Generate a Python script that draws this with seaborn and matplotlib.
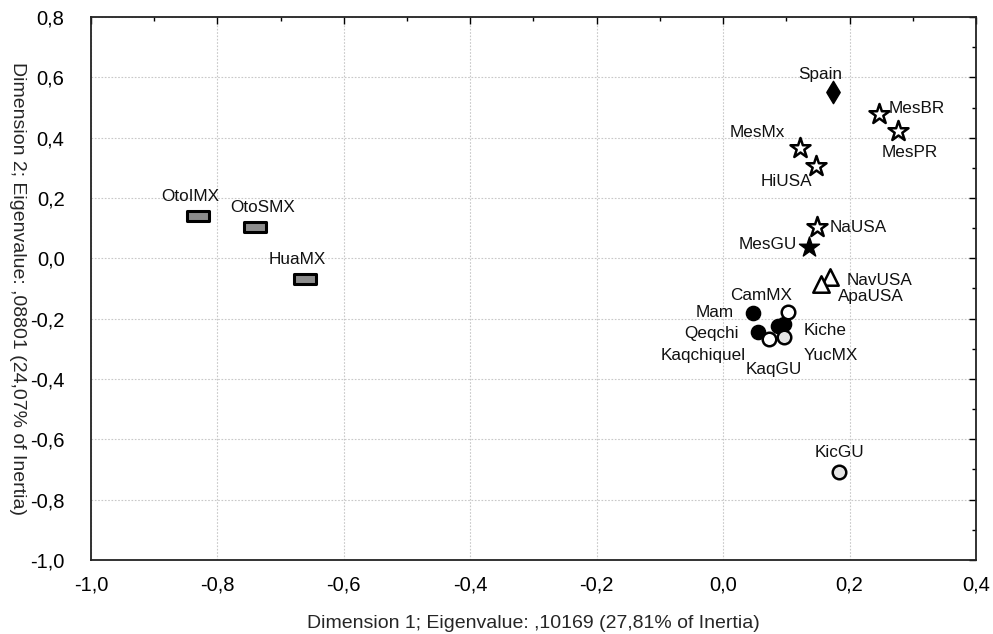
import seaborn as sns
import pandas as pd
import matplotlib.pyplot as plt
from matplotlib.path import Path
from matplotlib.ticker import MultipleLocator, FuncFormatter

# ---------------- STYLE ----------------
sns.set_style("white")
plt.rcParams["font.family"] = ["Liberation Sans", "DejaVu Sans"]

# ---------------- DATA ----------------
names = ["OtoIMX", "OtoSMX", "HuaMX",
         "Spain", "MesBR", "MesPR", "MesMx", "HiUSA", "NaUSA", "MesGU",
         "NavUSA", "ApaUSA",
         "Mam", "Qeqchi", "Kaqchiquel", "Kiche",
         "CamMX", "KaqGU", "YucMX", "KicGU"]
dim1 = [-0.830, -0.741, -0.662,
        0.174, 0.247, 0.277, 0.122, 0.147, 0.149, 0.136,
        0.169, 0.155,
        0.047, 0.055, 0.087, 0.096,
        0.102, 0.072, 0.096, 0.184]
dim2 = [0.139, 0.103, -0.070,
        0.551, 0.478, 0.421, 0.365, 0.305, 0.103, 0.036,
        -0.063, -0.086,
        -0.180, -0.246, -0.226, -0.217,
        -0.178, -0.266, -0.261, -0.710]
group = ["rect", "rect", "rect",
         "diamond", "star", "star", "star", "star", "star", "starfill",
         "tri", "tri",
         "dot", "dot", "dot", "dot",
         "open", "open", "opengray", "opengray"]

# label offsets (points) and alignment
lab_dx = [-6, 6, -5, -9, 7, 8, -11, -3, 9, -9, 12, 12, -14, -14, -23, 14, -19, 4, 14, 0]
lab_dy = [14, 14, 14, 13, 4, -15, 11, -11, 0, 2, -2, -9, 0, -1, -21, -5, 12, -22, -13, 14]
lab_ha = ["center", "center", "center", "center", "left", "center", "right", "right",
          "left", "right", "left", "left", "right", "right", "right", "left",
          "center", "center", "left", "center"]

df = pd.DataFrame({"name": names, "x": dim1, "y": dim2, "group": group})

rect_marker = Path([(-1, -0.45), (1, -0.45), (1, 0.45), (-1, 0.45), (-1, -0.45)],
                   [Path.MOVETO, Path.LINETO, Path.LINETO, Path.LINETO, Path.CLOSEPOLY])

styles = {
    "rect": dict(marker=rect_marker, s=230, color="#8c8c8c", edgecolor="black", linewidth=2.2),
    "diamond": dict(marker="d", s=130, color="black", edgecolor="black", linewidth=1),
    "star": dict(marker="*", s=230, color="white", edgecolor="black", linewidth=1.8),
    "starfill": dict(marker="*", s=230, color="black", edgecolor="black", linewidth=1),
    "tri": dict(marker="^", s=140, color="white", edgecolor="black", linewidth=1.8),
    "dot": dict(marker="o", s=105, color="black", edgecolor="black", linewidth=1),
    "open": dict(marker="o", s=95, color="white", edgecolor="black", linewidth=1.8),
    "opengray": dict(marker="o", s=95, color="#e4e4e4", edgecolor="black", linewidth=1.8),
}

# ---------------- PLOT ----------------
fig = plt.figure(figsize=(9.93, 6.34), dpi=100)
ax = fig.add_axes([0.0916, 0.117, 0.8913, 0.856])

for g, kw in styles.items():
    sub = df[df["group"] == g]
    sns.scatterplot(data=sub, x="x", y="y", ax=ax, zorder=3, legend=False, **kw)

for i, n in enumerate(names):
    ax.annotate(n, (dim1[i], dim2[i]), xytext=(lab_dx[i], lab_dy[i]),
                textcoords="offset points", ha=lab_ha[i], va="center",
                fontsize=12.3, color="#111111", zorder=4)

ax.set_xlim(-1.0, 0.4)
ax.set_ylim(-1.0, 0.8)
ax.xaxis.set_major_locator(MultipleLocator(0.2))
ax.xaxis.set_minor_locator(MultipleLocator(0.1))
ax.yaxis.set_major_locator(MultipleLocator(0.2))
ax.yaxis.set_minor_locator(MultipleLocator(0.1))
comma = FuncFormatter(lambda v, p: f"{v:.1f}".replace(".", ",").replace("-0,0", "0,0"))
ax.xaxis.set_major_formatter(comma)
ax.yaxis.set_major_formatter(comma)

ax.tick_params(which="both", direction="in", top=True, right=True,
               labelsize=14.5, colors="black")
ax.tick_params(axis="y", pad=19)
ax.tick_params(axis="x", pad=11)
ax.tick_params(which="major", length=5, width=1)
ax.tick_params(which="minor", length=3, width=1)

ax.grid(True, which="major", color="#c8c8c8", linestyle=(0, (1.5, 1.5)), linewidth=0.8)
ax.set_axisbelow(True)
for sp in ax.spines.values():
    sp.set_visible(True)
    sp.set_color("#222222")
    sp.set_linewidth(1.3)

ax.set_xlabel("Dimension 1; Eigenvalue: ,10169 (27,81% of Inertia)", fontsize=14, labelpad=15)
ax.set_ylabel("Dimension 2; Eigenvalue: ,08801 (24,07% of Inertia)", fontsize=14,
              rotation=270)
ax.yaxis.set_label_coords(-0.093, 0.5)

fig.savefig("out.png", dpi=100)
